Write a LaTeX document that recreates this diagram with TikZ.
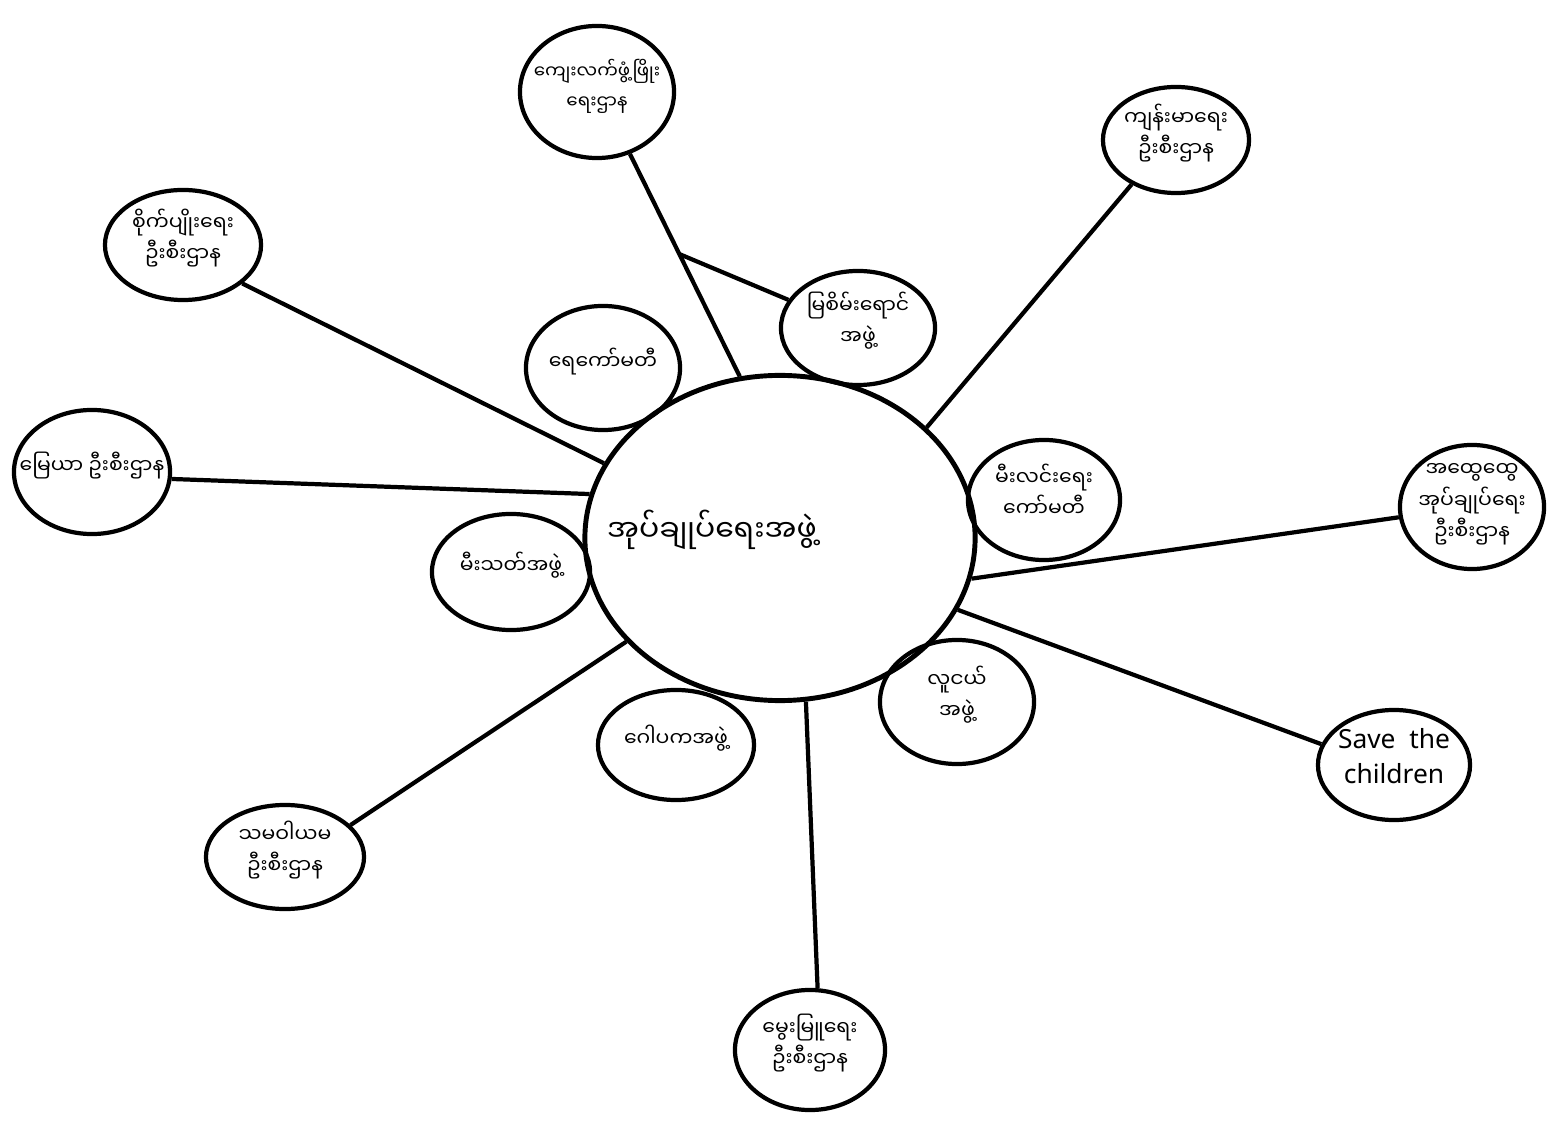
\documentclass[tikz,border=0pt]{standalone}
\usepackage{fontspec}
\usetikzlibrary{shapes.geometric}
\newfontfamily\mmfont[Script=Myanmar]{Noto Sans Myanmar UI}
\newfontfamily\latfont{Noto Sans}
\newcommand\bubtext[1]{\raisebox{0pt}[0pt][0pt]{\makebox[0pt]{\begin{tabular}{@{}c@{}}#1\end{tabular}}}}
\begin{document}
\begin{tikzpicture}[x=0.01cm, y=-0.01cm,
    bubble/.style={draw, ellipse, line width=1.2pt, inner sep=0pt,
      font=\mmfont\fontsize{5.8}{9}\selectfont},
    link/.style={line width=1.2pt}]
  \useasboundingbox[fill=white] (0,0) rectangle (1552,1122);
  \node[bubble, line width=1.4pt, minimum width=3.9cm, minimum height=3.25cm] (hub) at (780,538) {};
  \node[font=\mmfont\fontsize{8.5}{11}\selectfont] (hubtext) at (712,530) {အုပ်ချုပ်ရေးအဖွဲ့};
  \node[bubble, minimum width=1.54cm, minimum height=1.32cm, font=\mmfont\fontsize{5.2}{8.5}\selectfont] (rural) at (597,92) {\bubtext{ကျေးလက်ဖွံ့ဖြိုး\\ရေးဌာန}};
  \node[bubble, minimum width=1.46cm, minimum height=1.06cm] (health) at (1176,140) {\bubtext{ကျန်းမာရေး\\ဦးစီးဌာန}};
  \node[bubble, minimum width=1.56cm, minimum height=1.1cm] (agri) at (183,245) {\bubtext{စိုက်ပျိုးရေး\\ဦးစီးဌာန}};
  \node[bubble, minimum width=1.54cm, minimum height=1.24cm] (water) at (603,368) {\bubtext{ရေကော်မတီ}};
  \node[bubble, minimum width=1.54cm, minimum height=1.14cm] (green) at (858,328) {\bubtext{မြစိမ်းရောင်\\အဖွဲ့}};
  \node[bubble, minimum width=1.56cm, minimum height=1.24cm] (land) at (92,472) {\bubtext{မြေယာ ဦးစီးဌာန}};
  \node[bubble, minimum width=1.52cm, minimum height=1.2cm] (light) at (1044,500) {\bubtext{မီးလင်းရေး\\ကော်မတီ}};
  \node[bubble, minimum width=1.44cm, minimum height=1.24cm] (gad) at (1472,507) {\bubtext{အထွေထွေ\\အုပ်ချုပ်ရေး\\ဦးစီးဌာန}};
  \node[bubble, minimum width=1.58cm, minimum height=1.16cm] (fire) at (511,572) {\bubtext{မီးသတ်အဖွဲ့}};
  \node[bubble, minimum width=1.56cm, minimum height=1.1cm] (gopaka) at (676,745) {\bubtext{ဂေါပကအဖွဲ့}};
  \node[bubble, minimum width=1.54cm, minimum height=1.24cm] (youth) at (957,702) {\bubtext{လူငယ်\\အဖွဲ့}};
  \node[bubble, minimum width=1.52cm, minimum height=1.1cm, font=\latfont\fontsize{7.5}{10}\selectfont] (save) at (1394,765) {\bubtext{Save \ the\\children}};
  \node[bubble, minimum width=1.58cm, minimum height=1.04cm] (coop) at (285,857) {\bubtext{သမဝါယမ\\ဦးစီးဌာန}};
  \node[bubble, minimum width=1.5cm, minimum height=1.2cm] (livestock) at (810,1050) {\bubtext{မွေးမြူရေး\\ဦးစီးဌာန}};
  \draw[link] (rural.298) -- coordinate[pos=0.45] (fork) (hub.104);
  \draw[link] (fork) -- (green.158);
  \draw[link] (health.225) -- (hub.37);
  \draw[link] (agri.327) -- (hub.157);
  \draw[link] (land.355) -- (hub.167);
  \draw[link] (gad.188) -- (hub.348);
  \draw[link] (save.164) -- (hub.338);
  \draw[link] (livestock.83) -- (hub.279);
  \draw[link] (coop.26) -- (hub.214);
\end{tikzpicture}
\end{document}
